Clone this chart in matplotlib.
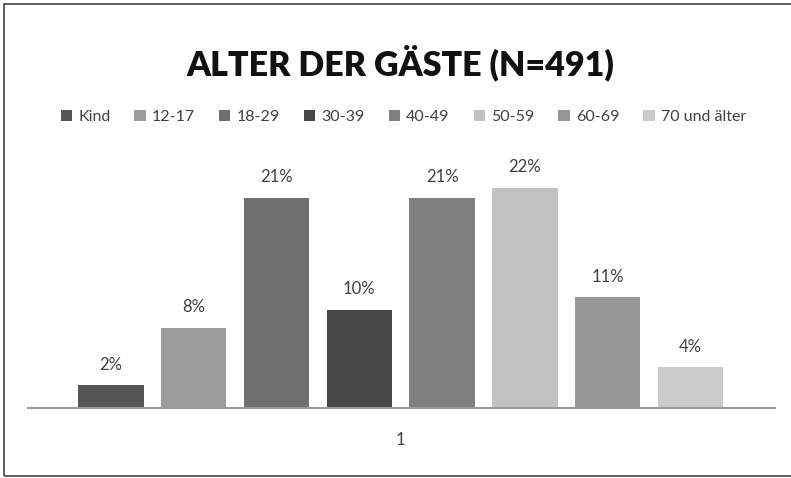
import matplotlib
matplotlib.use("Agg")
import matplotlib.pyplot as plt
from matplotlib.patches import Rectangle, Patch
import numpy as np

plt.rcParams['font.family'] = ['Lato', 'DejaVu Sans']

# Daten
categories = ['Kind', '12-17', '18-29', '30-39', '40-49', '50-59', '60-69', '70 und älter']
values = [2.3, 8.0, 21.0, 9.8, 21.0, 22.0, 11.1, 4.1]
labels = ['2%', '8%', '21%', '10%', '21%', '22%', '11%', '4%']
colors = ['#555555', '#9c9c9c', '#6f6f6f', '#464646', '#808080', '#c2c2c2', '#979797', '#cacaca']
title = 'ALTER DER GÄSTE (N=491)'

W, H = 791, 478
fig = plt.figure(figsize=(W / 100, H / 100), dpi=100)

# Rahmen um das Bild
fig.patches.append(Rectangle((4 / W, 2 / H), 1.0, (H - 6) / H, transform=fig.transFigure,
                             fill=False, edgecolor='#444444', linewidth=1.2))

ax = fig.add_axes([28 / W, 70 / H, 747 / W, 250 / H])
x = np.arange(len(categories))
bars = ax.bar(x, values, width=0.79, color=colors)
ax.set_xlim(-1.0, 8.02)
ax.set_ylim(0, 25)

for b, lbl in zip(bars, labels):
    ax.annotate(lbl, (b.get_x() + b.get_width() / 2, b.get_height()), xytext=(0, 9),
                textcoords='offset points', ha='center', va='bottom', fontsize=12, color='#404040')

for s in ['top', 'right', 'left']:
    ax.spines[s].set_visible(False)
ax.spines['bottom'].set_color('#9a9a9a')
ax.spines['bottom'].set_linewidth(1.5)
ax.set_yticks([])
ax.set_xticks([3.5])
ax.set_xticklabels(['1'], fontsize=12, color='#404040')
ax.tick_params(axis='x', length=0, pad=17)

fig.text(0.506, 1 - 63 / H, title, ha='center', va='center', fontsize=24.5, fontweight='heavy', color='#111111')

handles = [Patch(facecolor=c) for c in colors]
fig.legend(handles, categories, loc='center', bbox_to_anchor=(0.51, 1 - 117 / H), ncol=8, frameon=False,
           fontsize=11.5, handlelength=0.7, handleheight=0.7, handletextpad=0.4, columnspacing=1.5,
           labelcolor='#404040')

fig.savefig('out.png', dpi=100)
